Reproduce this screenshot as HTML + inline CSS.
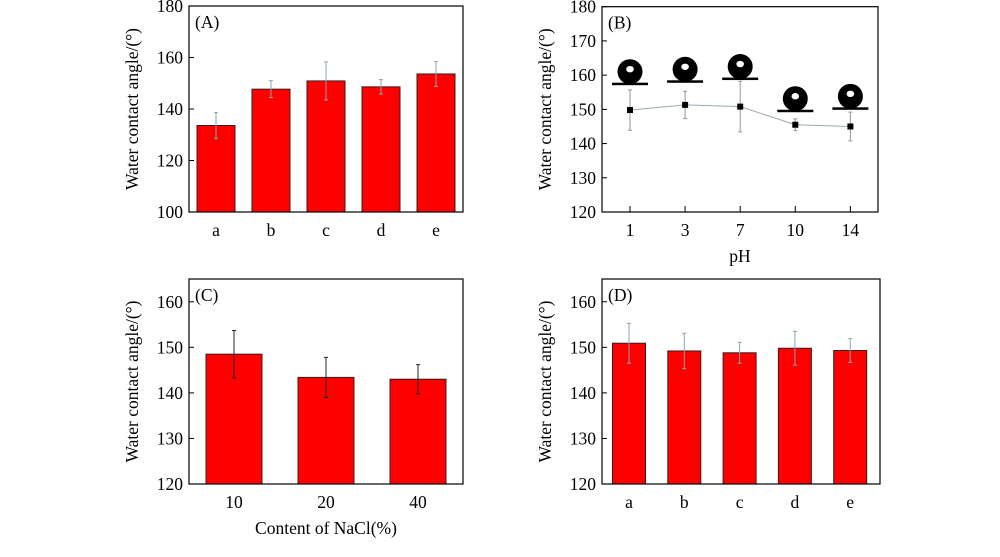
<!DOCTYPE html>
<html><head><meta charset="utf-8"><style>
html,body{margin:0;padding:0;background:#fff;}
</style></head><body>
<svg id="chart" width="1000" height="552" viewBox="0 0 1000 552" xmlns="http://www.w3.org/2000/svg" font-family="'Liberation Serif', 'Times New Roman', serif">
<style>text{font-family:"Liberation Serif","Times New Roman",serif;fill:#000;}</style>
</svg>
<script>
// Panel A data
const catsA = ['a','b','c','d','e'];
const valsA = [133.6, 147.7, 150.9, 148.6, 153.6];
const errA = [5.0, 3.3, 7.4, 2.8, 4.8];
const ticksA = [100,120,140,160,180];
// Panel B data
const catsB = ['1','3','7','10','14'];
const valsB = [149.8, 151.3, 150.8, 145.5, 145.0];
const errB = [5.9, 4.0, 7.4, 1.7, 4.2];
const ticksB = [120,130,140,150,160,170,180];
const dropAngleB = [157.5, 158.2, 159.0, 149.6, 150.3];
// Panel C data
const catsC = ['10','20','40'];
const valsC = [148.5, 143.4, 143.0];
const errC = [5.2, 4.4, 3.2];
const ticksC = [120,130,140,150,160];
// Panel D data
const catsD = ['a','b','c','d','e'];
const valsD = [150.9, 149.2, 148.8, 149.8, 149.3];
const errD = [4.4, 3.9, 2.3, 3.7, 2.6];
const ticksD = [120,130,140,150,160];

const svg = document.getElementById('chart');
const NS = 'http://www.w3.org/2000/svg';
const FONT = '"Liberation Serif", "Times New Roman", serif';
function el(tag, attrs, parent){
  const e = document.createElementNS(NS, tag);
  for (const k in attrs) e.setAttribute(k, attrs[k]);
  if (tag === 'text') e.setAttribute('font-family', FONT);
  (parent||svg).appendChild(e);
  return e;
}

function panel(opt){
  const g = el('g', {});
  
  
  const {x0,x1,y0,y1,min,max} = opt;
  const ys = v => y1 - (v-min)/(max-min)*(y1-y0);
  const xs = i => opt.xc0 + i*opt.step;
  opt.ticks.forEach(t => {
    const y = ys(t);
    const tk = el('line', {x1:x0, x2:x0+5, y1:y, y2:y, stroke:'#000', 'stroke-width':1}, g);
    
    
    const tl = el('text', {x:x0-6, y:y+6, 'text-anchor':'end', 'font-size':17.5}, g);
    tl.textContent = t;
    
    
  });
  opt.cats.forEach((c,i) => {
    const x = xs(i);
    const tk = el('line', {x1:x, x2:x, y1:y1, y2:y1-6, stroke:'#000', 'stroke-width':1}, g);
    
    
    const tl = el('text', {x:x, y:y1+24, 'text-anchor':'middle', 'font-size':17.5}, g);
    tl.textContent = c;
    
    
  });
  if (opt.type === 'bar') {
    opt.vals.forEach((v,i) => {
      const x = xs(i);
      const b = el('rect', {x:x-opt.bw/2, y:ys(v), width:opt.bw, height:y1-ys(v), fill:'#ff0000', stroke:'#3a1a1a', 'stroke-width':1}, g);
      
      
      const e = opt.errs[i];
      const eb = el('path', {d:`M${x} ${ys(v-e)}V${ys(v+e)}M${x-2} ${ys(v+e)}H${x+2}M${x-2} ${ys(v-e)}H${x+2}`, stroke:opt.ec, 'stroke-width':1, fill:'none'}, g);
      
      
    });
  } else {
    const pts = opt.vals.map((v,i)=> xs(i)+','+ys(v)).join(' ');
    const ln = el('polyline', {points:pts, fill:'none', stroke:'#9aaab0', 'stroke-width':1}, g);
    
    
    opt.vals.forEach((v,i) => {
      const x = xs(i), e = opt.errs[i];
      const eb = el('path', {d:`M${x} ${ys(v-e)}V${ys(v+e)}M${x-2} ${ys(v+e)}H${x+2}M${x-2} ${ys(v-e)}H${x+2}`, stroke:'#8a9aa0', 'stroke-width':1, fill:'none'}, g);
      
      
      const m = el('rect', {x:x-3, y:ys(v)-3, width:6, height:6, fill:'#000'}, g);
      
      
      const by = ys(opt.drops[i]);
      const d = el('g', {}, g);
      
      
      el('rect', {x:x-18, y:by-1, width:36, height:2.5, fill:'#000'}, d);
      el('circle', {cx:x, cy:by-12, r:12.5, fill:'#000'}, d);
      el('ellipse', {cx:x, cy:by-14.5, rx:3.8, ry:3.2, fill:'#fff'}, d);
    });
  }
  const fr = el('rect', {x:x0, y:y0, width:x1-x0, height:y1-y0, fill:'none', stroke:'#000', 'stroke-width':1.2}, g);
  
  
  const lab = el('text', {x:x0+6, y:y0+22, 'font-size':17.5}, g);
  lab.textContent = opt.label;
  
  
  const yt = el('text', {x:0, y:0, 'text-anchor':'middle', 'font-size':17.5, transform:`translate(${x0-51},${(y0+y1)/2}) rotate(-90)`}, g);
  yt.textContent = 'Water contact angle/(°)';
  
  
  if (opt.xtitle) {
    const xt = el('text', {x:(x0+x1)/2, y:y1+50, 'text-anchor':'middle', 'font-size':17.5}, g);
    xt.textContent = opt.xtitle;
    
    
  }
}

panel({name:'panel-a', label:'(A)', type:'bar', x0:189, x1:463, y0:6, y1:212, min:100, max:180,
  cats:catsA, vals:valsA, errs:errA, ticks:ticksA, xc0:216, step:55, bw:38, ec:'#8aa4b0'});
panel({name:'panel-b', label:'(B)', type:'line', x0:602, x1:878, y0:6.7, y1:212, min:120, max:180,
  cats:catsB, vals:valsB, errs:errB, ticks:ticksB, xc0:630, step:55.1, drops:dropAngleB, xtitle:'pH'});
panel({name:'panel-c', label:'(C)', type:'bar', x0:189, x1:463, y0:279, y1:484, min:120, max:165,
  cats:catsC, vals:valsC, errs:errC, ticks:ticksC, xc0:234, step:92, bw:56, ec:'#1a2a30', xtitle:'Content of NaCl(%)'});
panel({name:'panel-d', label:'(D)', type:'bar', x0:602, x1:880, y0:279, y1:484, min:120, max:165,
  cats:catsD, vals:valsD, errs:errD, ticks:ticksD, xc0:629, step:55.3, bw:33, ec:'#8aa4b0'});
</script>
</body></html>
